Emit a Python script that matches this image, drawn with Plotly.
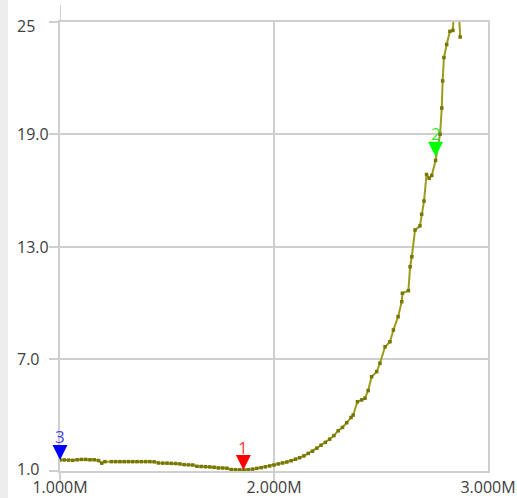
import plotly.graph_objects as go

# Sweep frequency (MHz) and measured value
freq_mhz = [
    1.00, 1.02, 1.04, 1.06, 1.08, 1.10, 1.12, 1.14, 1.16, 1.18,
    1.195, 1.21, 1.24, 1.26, 1.28, 1.30, 1.32, 1.34, 1.36, 1.38,
    1.40, 1.42, 1.44, 1.46, 1.48, 1.50, 1.52, 1.54, 1.56, 1.58,
    1.60, 1.62, 1.64, 1.66, 1.68, 1.70, 1.72, 1.74, 1.76, 1.78,
    1.80, 1.82, 1.84, 1.86, 1.88, 1.90, 1.92, 1.94, 1.96, 1.98,
    2.00, 2.02, 2.04, 2.06, 2.08, 2.10, 2.12, 2.14, 2.16, 2.18,
    2.20, 2.22, 2.24, 2.26, 2.28, 2.30, 2.32, 2.34, 2.36, 2.37,
    2.39, 2.41, 2.425, 2.44, 2.456, 2.48, 2.495, 2.519, 2.542, 2.558,
    2.58, 2.597, 2.60, 2.628, 2.636, 2.644, 2.659, 2.682, 2.69, 2.701,
    2.713, 2.725, 2.737, 2.755, 2.776, 2.784, 2.788, 2.794, 2.807, 2.822,
    2.836, 2.842, 2.862, 2.870,
]
values = [
    1.59, 1.59, 1.58, 1.57, 1.60, 1.62, 1.62, 1.60, 1.60, 1.56,
    1.42, 1.50, 1.50, 1.50, 1.50, 1.50, 1.50, 1.50, 1.50, 1.50,
    1.50, 1.50, 1.49, 1.43, 1.42, 1.42, 1.41, 1.40, 1.38, 1.34,
    1.33, 1.32, 1.25, 1.24, 1.23, 1.22, 1.20, 1.16, 1.16, 1.15,
    1.08, 1.07, 1.06, 1.06, 1.07, 1.10, 1.14, 1.18, 1.22, 1.27,
    1.32, 1.38, 1.43, 1.48, 1.55, 1.63, 1.71, 1.81, 1.94, 2.06,
    2.22, 2.38, 2.53, 2.70, 2.89, 3.15, 3.33, 3.58, 3.86, 3.99,
    4.70, 4.80, 4.89, 5.30, 6.04, 6.31, 6.76, 7.64, 7.91, 8.54,
    9.25, 10.05, 10.50, 10.64, 11.92, 12.45, 13.88, 14.10, 14.72, 15.43,
    16.85, 16.65, 16.80, 17.60, 19.00, 20.40, 21.85, 23.10, 23.80, 24.50,
    24.55, 26.00, 26.00, 24.20,
]

# Markers: label, frequency (MHz), value, marker colour, label colour
marker_labels = ["3", "1", "2"]
marker_freq_mhz = [1.00, 1.857, 2.755]
marker_values = [1.59, 1.05, 17.80]
marker_colors = ["#0000ff", "#ff0000", "#00ff00"]
marker_text_colors = ["#4646ff", "#ff3c3c", "#33ee33"]

x_tick_vals = [1.0e6, 2.0e6, 3.0e6]
x_tick_text = ["1.000M", "2.000M", "3.000M"]
y_tick_vals = [1.0, 7.0, 13.0, 19.0, 25.0]
y_tick_text = ["1.0", "7.0", "13.0", "19.0", "25"]
# small vertical nudges for the end labels of the value axis
y_label_shift = [2, 0, 0, 0, -4]

GRID = "#cfcfcf"
TEXT = "#404040"
FONT = "Open Sans"

fig = go.Figure()
fig.add_trace(go.Scatter(
    x=[f * 1e6 for f in freq_mhz],
    y=values,
    mode="lines+markers",
    line=dict(color="#9c9c1c", width=2),
    marker=dict(symbol="square", size=3.5, color="#767600"),
    showlegend=False,
    hoverinfo="x+y",
))

annotations = []
# Marker arrows: the arrowhead tip sits on the marker value
for lab, f, v, c, tc in zip(marker_labels, marker_freq_mhz, marker_values,
                            marker_colors, marker_text_colors):
    annotations.append(dict(
        x=f * 1e6, y=v, xref="x", yref="y",
        text=lab, showarrow=True,
        arrowhead=2, arrowsize=2.5, arrowwidth=1.2, arrowcolor=c,
        ax=0, ay=-23,
        font=dict(family=FONT, size=17, color=tc),
    ))

# Left-aligned value labels
for val, txt, dy in zip(y_tick_vals, y_tick_text, y_label_shift):
    annotations.append(dict(
        x=-0.105, y=val, xref="paper", yref="y",
        text=txt, showarrow=False, xanchor="left", yanchor="middle",
        yshift=dy,
        font=dict(family=FONT, size=16, color=TEXT),
    ))

fig.update_layout(
    width=517, height=498,
    margin=dict(l=60, r=29, t=22, b=27, autoexpand=False),
    paper_bgcolor="white",
    plot_bgcolor="white",
    annotations=annotations,
    shapes=[
        # light panel strip on the left edge
        dict(type="rect", xref="paper", yref="paper",
             x0=-0.1402, x1=-0.1215, y0=-0.07, y1=1.06,
             fillcolor="#ededed", line=dict(width=0), layer="below"),
        # frequency axis line continues above the top grid line
        dict(type="line", xref="x", yref="paper",
             x0=x_tick_vals[0], x1=x_tick_vals[0], y0=1.0, y1=1.038,
             line=dict(color=GRID, width=2)),
    ],
)

fig.update_xaxes(
    range=[x_tick_vals[0], x_tick_vals[-1]],
    automargin=False,
    tickmode="array", tickvals=x_tick_vals, ticktext=x_tick_text,
    ticks="", showgrid=True, gridcolor=GRID, gridwidth=2,
    showline=True, linecolor=GRID, linewidth=2, mirror=True,
    zeroline=False,
    minor=dict(tickmode="array", tickvals=x_tick_vals[:2], ticks="outside",
               ticklen=9, tickcolor=GRID, tickwidth=2, showgrid=False),
    tickfont=dict(family=FONT, size=16, color=TEXT),
    ticklabelstandoff=1,
)
fig.update_yaxes(
    range=[y_tick_vals[0], y_tick_vals[-1]],
    automargin=False,
    tickmode="array", tickvals=y_tick_vals,
    showticklabels=False,
    ticks="outside", ticklen=9, tickcolor=GRID, tickwidth=2,
    showgrid=True, gridcolor=GRID, gridwidth=2,
    showline=True, linecolor=GRID, linewidth=2, mirror=True,
    zeroline=False,
)

fig.write_html("out.html")
